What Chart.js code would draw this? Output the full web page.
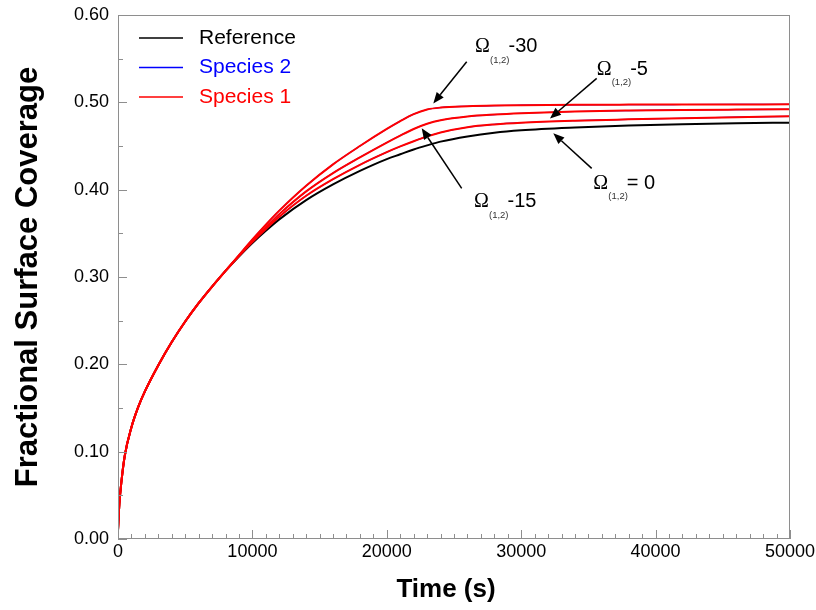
<!DOCTYPE html>
<html>
<head>
<meta charset="utf-8">
<title>Fractional Surface Coverage</title>
<script src="https://cdn.jsdelivr.net/npm/chart.js@4.4.1/dist/chart.umd.min.js"></script>
<style>
  html, body { margin: 0; padding: 0; background: #ffffff; }
  #wrap { width: 816px; height: 610px; }
</style>
</head>
<body>
<div id="wrap"><canvas id="coverageChart" width="816" height="610"></canvas></div>
<script>
// time axis (s)
const timeSec = [0, 100, 250, 500, 1000, 1500, 2000, 3000, 4000, 5000, 6000, 7000, 8000, 9000, 10000,
  11000, 12000, 14000, 16000, 18000, 20000, 21000, 22000, 23000, 24000, 26000, 28000, 30000,
  34000, 38000, 42000, 46000, 50000];

// reference run (Omega(1,2) = 0)
const reference = [0.010, 0.040, 0.065, 0.095, 0.128, 0.151, 0.169, 0.199, 0.2255, 0.249, 0.270, 0.289, 0.307, 0.3235, 0.339,
  0.353, 0.366, 0.388, 0.406, 0.4215, 0.435, 0.4405, 0.446, 0.4507, 0.455, 0.461, 0.4653, 0.468,
  0.4712, 0.4735, 0.475, 0.476, 0.4767];

// species 1 for Omega(1,2) = -5, -15, -30
const omegaMinus5 = [0.010, 0.040, 0.065, 0.095, 0.128, 0.151, 0.169, 0.199, 0.2255, 0.249, 0.270, 0.289, 0.307, 0.324, 0.340,
  0.355, 0.369, 0.393, 0.412, 0.4285, 0.443, 0.4495, 0.4555, 0.461, 0.4655, 0.4715, 0.4747, 0.4767,
  0.479, 0.4805, 0.4818, 0.483, 0.484];
const omegaMinus15 = [0.010, 0.040, 0.065, 0.095, 0.128, 0.151, 0.169, 0.199, 0.2255, 0.249, 0.270, 0.289, 0.307, 0.3245, 0.3415,
  0.357, 0.372, 0.398, 0.419, 0.437, 0.454, 0.462, 0.4695, 0.4755, 0.4795, 0.4838, 0.486, 0.4875,
  0.4895, 0.4906, 0.4913, 0.4917, 0.492];
const omegaMinus30 = [0.010, 0.040, 0.065, 0.095, 0.128, 0.151, 0.169, 0.199, 0.2255, 0.249, 0.270, 0.289, 0.307, 0.325, 0.343,
  0.360, 0.376, 0.4045, 0.429, 0.450, 0.4695, 0.4785, 0.4865, 0.4918, 0.494, 0.4955, 0.4963, 0.4967,
  0.4972, 0.4974, 0.4975, 0.4976, 0.4977];

// species 2 sits right under species 1 for every Omega
const species2Minus5 = omegaMinus5.slice();
const species2Minus15 = omegaMinus15.slice();
const species2Minus30 = omegaMinus30.slice();

// axis ranges / ticks
const xRange = [0, 50000];
const xMajorStep = 10000;
const xMinorStep = 1000;
const yRange = [0, 0.6];
const yMajorStep = 0.1;
const yMinorStep = 0.05;

// callout labels: Omega value, label anchor and arrow (in data units)
const calloutText = ["-30", "-5", "= 0", "-15"];
const calloutAt = [[26562, 0.5637], [35617, 0.5378], [35365, 0.4073], [26488, 0.3862]];
const arrowFrom = [[25945, 0.5464], [35617, 0.5274], [35245, 0.4244], [25573, 0.4015]];
const arrowTo = [[23460, 0.4988], [32143, 0.4816], [32388, 0.4645], [22597, 0.4702]];

const SANS = '"Liberation Sans", Arial, sans-serif';
const SERIF = '"Liberation Serif", "Times New Roman", serif';

function toPoints(values) {
  return values.map((v, i) => ({ x: timeSec[i], y: v }));
}

function line(label, values, color, width, order) {
  return {
    label: label,
    data: toPoints(values),
    borderColor: color,
    backgroundColor: color,
    borderWidth: width,
    pointRadius: 0,
    fill: false,
    cubicInterpolationMode: "monotone",
    order: order,
  };
}

// frame box + inward tick marks
const frameTicks = {
  id: "frameTicks",
  afterDatasetsDraw(chart) {
    const { ctx, chartArea: a, scales: { x, y } } = chart;
    ctx.save();
    ctx.strokeStyle = "#8e8e8e";
    ctx.lineWidth = 1;
    ctx.strokeRect(a.left + 0.5, a.top + 0.5, a.right - a.left - 1, a.bottom - a.top - 1);
    ctx.beginPath();
    for (let t = xRange[0]; t <= xRange[1]; t += xMinorStep) {
      const px = Math.round(x.getPixelForValue(t)) + 0.5;
      const len = t % xMajorStep === 0 ? 9 : 5;
      ctx.moveTo(px, a.bottom);
      ctx.lineTo(px, a.bottom - len);
    }
    const nY = Math.round((yRange[1] - yRange[0]) / yMinorStep);
    const every = Math.round(yMajorStep / yMinorStep);
    for (let i = 0; i <= nY; i++) {
      const py = Math.round(y.getPixelForValue(yRange[0] + i * yMinorStep)) + 0.5;
      const len = i % every === 0 ? 9 : 5;
      ctx.moveTo(a.left, py);
      ctx.lineTo(a.left + len, py);
    }
    ctx.stroke();
    ctx.restore();
  },
};

// legend drawn inside the plot, one entry per label, text in series colour
const innerLegend = {
  id: "innerLegend",
  afterDraw(chart) {
    const { ctx, chartArea: a } = chart;
    const seen = [];
    chart.data.datasets.forEach((ds) => {
      if (!seen.find((s) => s.label === ds.label)) seen.push(ds);
    });
    seen.sort((p, q) => p.legendRank - q.legendRank);
    ctx.save();
    ctx.font = "21px " + SANS;
    ctx.textBaseline = "middle";
    seen.forEach((ds, i) => {
      const yy = a.top + 23 + i * 29.5;
      ctx.strokeStyle = ds.borderColor;
      ctx.lineWidth = 1.5;
      ctx.beginPath();
      ctx.moveTo(a.left + 21, yy);
      ctx.lineTo(a.left + 65, yy);
      ctx.stroke();
      ctx.fillStyle = ds.borderColor;
      ctx.fillText(ds.label, a.left + 81, yy);
    });
    ctx.restore();
  },
};

function drawArrow(ctx, x0, y0, x1, y1) {
  const ang = Math.atan2(y1 - y0, x1 - x0);
  const head = 11;
  const half = 4.5;
  const bx = x1 - head * Math.cos(ang);
  const by = y1 - head * Math.sin(ang);
  ctx.beginPath();
  ctx.moveTo(x0, y0);
  ctx.lineTo(bx, by);
  ctx.stroke();
  ctx.beginPath();
  ctx.moveTo(x1, y1);
  ctx.lineTo(bx + half * Math.sin(ang), by - half * Math.cos(ang));
  ctx.lineTo(bx - half * Math.sin(ang), by + half * Math.cos(ang));
  ctx.closePath();
  ctx.fill();
}

// Omega(1,2) callouts with arrows
const callouts = {
  id: "callouts",
  afterDraw(chart) {
    const { ctx, scales: { x, y } } = chart;
    ctx.save();
    ctx.strokeStyle = "#000";
    ctx.fillStyle = "#000";
    ctx.lineWidth = 1.5;
    calloutText.forEach((txt, i) => {
      drawArrow(ctx,
        x.getPixelForValue(arrowFrom[i][0]), y.getPixelForValue(arrowFrom[i][1]),
        x.getPixelForValue(arrowTo[i][0]), y.getPixelForValue(arrowTo[i][1]));
      const lx = x.getPixelForValue(calloutAt[i][0]);
      const ly = y.getPixelForValue(calloutAt[i][1]);
      ctx.textBaseline = "middle";
      ctx.textAlign = "left";
      ctx.font = "20px " + SERIF;
      ctx.fillText("\u03A9", lx, ly);
      ctx.font = "9.5px " + SANS;
      ctx.fillStyle = "#333";
      ctx.fillText("(1,2)", lx + 15, ly + 13.5);
      ctx.fillStyle = "#000";
      ctx.font = "20px " + SANS;
      ctx.fillText(txt, lx + 33.5, ly);
    });
    ctx.restore();
  },
};

// axis titles
const axisTitles = {
  id: "axisTitles",
  afterDraw(chart) {
    const { ctx, chartArea: a } = chart;
    ctx.save();
    ctx.fillStyle = "#000";
    ctx.textAlign = "center";
    ctx.textBaseline = "middle";
    ctx.font = "bold 26px " + SANS;
    ctx.fillText("Time (s)", 446, 590);
    ctx.translate(28, (a.top + a.bottom) / 2);
    ctx.rotate(-Math.PI / 2);
    ctx.font = "bold 31px " + SANS;
    ctx.fillText("Fractional Surface Coverage", 0, 0);
    ctx.restore();
  },
};

const datasets = [
  line("Reference", reference, "#000000", 2, 3),
  line("Species 2", species2Minus5, "#0000ff", 1.2, 2),
  line("Species 2", species2Minus15, "#0000ff", 1.2, 2),
  line("Species 2", species2Minus30, "#0000ff", 1.2, 2),
  line("Species 1", omegaMinus5, "#ff0000", 2, 1),
  line("Species 1", omegaMinus15, "#ff0000", 2, 1),
  line("Species 1", omegaMinus30, "#ff0000", 2, 1),
];
datasets.forEach((ds) => {
  ds.legendRank = ["Reference", "Species 2", "Species 1"].indexOf(ds.label);
});

// no automatic label overhang padding, the plot box is set by layout padding
function noOverhang(scale) {
  scale.paddingTop = 0;
  scale.paddingBottom = 0;
  scale.paddingLeft = 0;
  scale.paddingRight = 0;
}

const ctx = document.getElementById("coverageChart").getContext("2d");
const coverageChart = new Chart(ctx, {
  type: "line",
  data: { datasets: datasets },
  options: {
    responsive: false,
    animation: false,
    devicePixelRatio: 1,
    layout: {
      autoPadding: false,
      padding: { top: 15, right: 26, left: 0, bottom: 0 },
    },
    scales: {
      x: {
        type: "linear",
        min: xRange[0],
        max: xRange[1],
        grid: { display: false, drawTicks: false },
        border: { display: false },
        ticks: {
          stepSize: xMajorStep,
          padding: 2,
          color: "#000",
          font: { family: SANS, size: 18 },
          maxRotation: 0,
          callback: (v) => String(v),
        },
        afterFit: (scale) => { scale.height = 71; noOverhang(scale); },
      },
      y: {
        type: "linear",
        min: yRange[0],
        max: yRange[1],
        grid: { display: false, drawTicks: false },
        border: { display: false },
        ticks: {
          stepSize: yMajorStep,
          padding: 9,
          color: "#000",
          font: { family: SANS, size: 18 },
          callback: (v) => Number(v).toFixed(2),
        },
        afterFit: (scale) => { scale.width = 118; noOverhang(scale); },
      },
    },
    plugins: {
      legend: { display: false },
      tooltip: { enabled: false },
    },
  },
  plugins: [frameTicks, innerLegend, callouts, axisTitles],
});
</script>
</body>
</html>
